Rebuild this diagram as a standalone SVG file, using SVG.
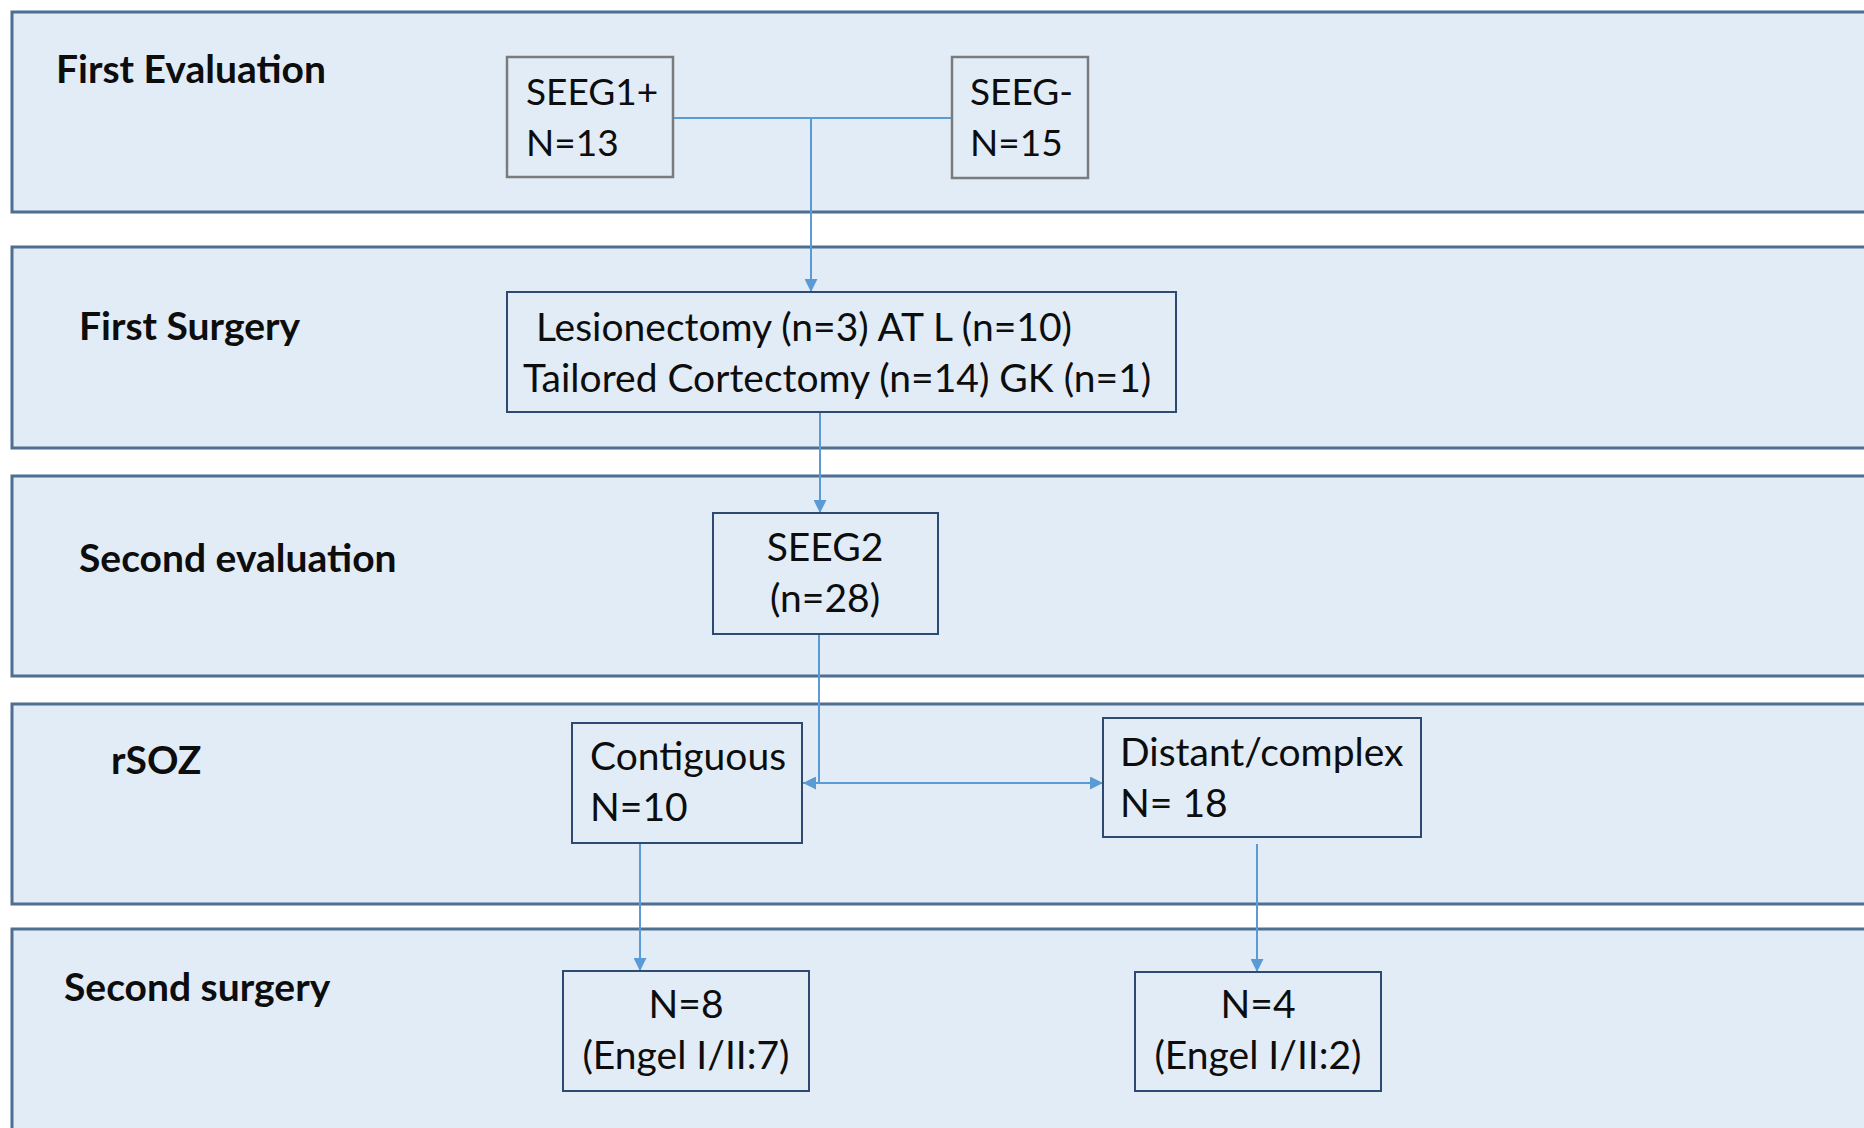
<svg xmlns="http://www.w3.org/2000/svg" width="1864" height="1128" viewBox="0 0 1864 1128">
  <defs>
    <style>
      .band { fill: #e1ecf7; stroke: #4f6f90; stroke-width: 3; }
      .lbl { font-family: Lato, "Liberation Sans", sans-serif; font-weight: bold; font-size: 39px; fill: #0d0d0d; }
      .txt { font-family: Lato, "Liberation Sans", sans-serif; font-size: 39px; fill: #0d0d0d; }
      .caps { font-size: 37px; }
      .mid { text-anchor: middle; }
      .gbox { fill: #e1ecf7; stroke: #7b7b7b; stroke-width: 2.5; }
      .bbox { fill: #e1ecf7; stroke: #2e4a70; stroke-width: 2; }
      .conn { fill: none; stroke: #5b9bd5; stroke-width: 2; }
    </style>
    <marker id="arr" viewBox="0 0 13 13" refX="13" refY="6.5" markerWidth="13" markerHeight="13" markerUnits="userSpaceOnUse" orient="auto-start-reverse">
      <path d="M0,0 L13,6.5 L0,13 z" fill="#5b9bd5"/>
    </marker>
  </defs>
  <rect width="1864" height="1128" fill="#ffffff"/>

  <g id="bands">
    <g id="band-first-evaluation">
      <rect class="band" x="12" y="12" width="1880" height="200"/>
      <text class="lbl" x="56" y="83">First Evaluation</text>
    </g>
    <g id="band-first-surgery">
      <rect class="band" x="12" y="247" width="1880" height="201"/>
      <text class="lbl" x="79" y="340">First Surgery</text>
    </g>
    <g id="band-second-evaluation">
      <rect class="band" x="12" y="476" width="1880" height="200"/>
      <text class="lbl" x="79" y="572">Second evaluation</text>
    </g>
    <g id="band-rsoz">
      <rect class="band" x="12" y="704" width="1880" height="200"/>
      <text class="lbl" x="111" y="774">rSOZ</text>
    </g>
    <g id="band-second-surgery">
      <rect class="band" x="12" y="929" width="1880" height="230"/>
      <text class="lbl" x="64" y="1001">Second surgery</text>
    </g>
  </g>

  <g id="connectors">
    <path class="conn" d="M673,118 H952"/>
    <path class="conn" d="M811,118 V292" marker-end="url(#arr)"/>
    <path class="conn" d="M820,412 V513" marker-end="url(#arr)"/>
    <path class="conn" d="M819,634 V783"/>
    <path class="conn" d="M803,783 H1103" marker-start="url(#arr)" marker-end="url(#arr)"/>
    <path class="conn" d="M640,843 V971" marker-end="url(#arr)"/>
    <path class="conn" d="M1257,844 V972" marker-end="url(#arr)"/>
  </g>

  <g id="node-seeg1">
    <rect class="gbox" x="507" y="57" width="166" height="120"/>
    <text class="txt caps" x="526" y="105">SEEG1+</text>
    <text class="txt caps" x="526" y="156">N=13</text>
  </g>
  <g id="node-seeg-neg">
    <rect class="gbox" x="952" y="57" width="136" height="121"/>
    <text class="txt caps" x="970" y="105">SEEG-</text>
    <text class="txt caps" x="970" y="156">N=15</text>
  </g>
  <g id="node-first-surgery">
    <rect class="bbox" x="507" y="292" width="669" height="120"/>
    <text class="txt" x="536" y="341">Lesionectomy (n=3) AT L (n=10)</text>
    <text class="txt" x="523" y="392">Tailored Cortectomy (n=14) GK (n=1)</text>
  </g>
  <g id="node-seeg2">
    <rect class="bbox" x="713" y="513" width="225" height="121"/>
    <text class="txt mid" x="825" y="561">SEEG2</text>
    <text class="txt mid" x="825" y="612">(n=28)</text>
  </g>
  <g id="node-contiguous">
    <rect class="bbox" x="572" y="723" width="230" height="120"/>
    <text class="txt" x="590" y="770">Contiguous</text>
    <text class="txt" x="590" y="821">N=10</text>
  </g>
  <g id="node-distant">
    <rect class="bbox" x="1103" y="718" width="318" height="119"/>
    <text class="txt" x="1120" y="766">Distant/complex</text>
    <text class="txt" x="1120" y="817">N= 18</text>
  </g>
  <g id="node-second-contig">
    <rect class="bbox" x="563" y="971" width="246" height="120"/>
    <text class="txt mid" x="686" y="1018">N=8</text>
    <text class="txt mid" x="686" y="1069">(Engel I/II:7)</text>
  </g>
  <g id="node-second-distant">
    <rect class="bbox" x="1135" y="972" width="246" height="119"/>
    <text class="txt mid" x="1258" y="1018">N=4</text>
    <text class="txt mid" x="1258" y="1069">(Engel I/II:2)</text>
  </g>
</svg>
